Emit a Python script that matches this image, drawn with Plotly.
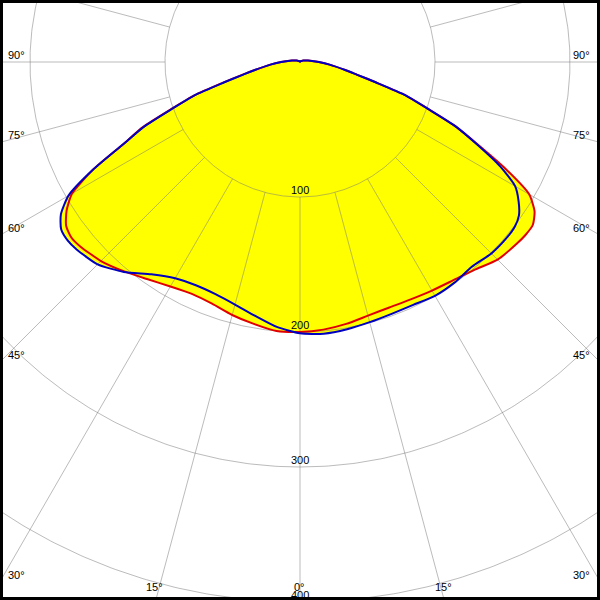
import numpy as np
import plotly.graph_objects as go

# ---- data: luminous intensity (cd/klm) vs gamma angle, two C-planes, left/right halves ----
gamma_deg = [0, 5, 10, 15, 20, 25, 30, 35, 40, 45,
             50, 52.5, 55, 57.5, 60, 62.5, 65, 67.5, 70, 72.5,
             75, 77.5, 80, 85, 90, 95, 100, 110, 120, 135,
             150, 180]

red_right = [200, 199, 197, 194.5, 193.5, 194, 195.5, 197.5, 201, 207,
             209.5, 210.5, 210.5, 206, 196, 172, 146, 125, 100, 82,
             58, 43, 34, 22, 14, 9, 6, 3, 2, 1,
             0.5, 0]
red_left = [200, 200, 197, 194, 190.5, 189.5, 192, 196.5, 202.5, 208.5,
            212.5, 213.5, 211.5, 205, 195, 173, 145, 126, 101, 82,
            59, 44, 34, 22, 14, 9, 6, 3, 2, 1,
            0.5, 0]
blue_right = [201, 202, 201, 199.5, 198.5, 198.5, 200, 199.5, 198, 200.5,
              201, 200.5, 198, 192, 184, 167, 145, 125, 100, 82,
              58, 43, 34, 22, 14, 9, 6, 3, 2, 1,
              0.5, 0]
blue_left = [201, 197, 191, 186, 183, 182.5, 185, 192, 203, 212,
             216, 217, 216, 210, 198, 173, 145, 125, 100, 82,
             58, 43, 34, 22, 14, 9, 6, 3, 2, 1,
             0.5, 0]

radial_ticks = [100, 200, 300, 400, 500]
radial_labels = ["100", "200", "300", "400"]
angle_ticks = [0, 15, 30, 45, 60, 75, 90]
angle_labels = [f"{a}°" for a in angle_ticks]

# ---- view (polar centre at 300,62 px; 1.35 px per unit) ----
SCALE = 1.35
XLIM = 300 / SCALE
YTOP = 62 / SCALE
YBOT = -538 / SCALE


def curve_xy(right, left):
    g = np.radians(gamma_deg)
    r_r = np.array(right, float)
    r_l = np.array(left, float)
    xr, yr = r_r * np.sin(g), -r_r * np.cos(g)
    xl, yl = -r_l * np.sin(g), -r_l * np.cos(g)
    x = np.concatenate([xr, xl[::-1]])
    y = np.concatenate([yr, yl[::-1]])
    return x, y


rx, ry = curve_xy(red_right, red_left)
bx, by = curve_xy(blue_right, blue_left)

fig = go.Figure()

# yellow fill (union of both planes)
for x, y in [(rx, ry), (bx, by)]:
    fig.add_trace(go.Scatter(x=x, y=y, mode="lines", fill="toself",
                             fillcolor="#ffff00",
                             line=dict(width=0, color="#ffff00", shape="spline", smoothing=0.6),
                             hoverinfo="skip", showlegend=False))

# grid: circles + radial lines starting at the first circle
gx, gy = [], []
th = np.linspace(0, 2 * np.pi, 721)
for r in radial_ticks:
    gx += list(r * np.sin(th)) + [None]
    gy += list(-r * np.cos(th)) + [None]
for a in range(0, 360, 15):
    ar = np.radians(a)
    gx += [radial_ticks[0] * np.sin(ar), 700 * np.sin(ar), None]
    gy += [-radial_ticks[0] * np.cos(ar), -700 * np.cos(ar), None]
fig.add_trace(go.Scatter(x=gx, y=gy, mode="lines",
                         line=dict(width=1, color="rgba(120,120,120,0.5)"),
                         hoverinfo="skip", showlegend=False))

# curves
fig.add_trace(go.Scatter(x=rx, y=ry, mode="lines",
                         line=dict(color="#e00000", width=2, shape="spline", smoothing=0.6),
                         hoverinfo="skip", showlegend=False))
fig.add_trace(go.Scatter(x=bx, y=by, mode="lines",
                         line=dict(color="#0000c0", width=2, shape="spline", smoothing=0.6),
                         hoverinfo="skip", showlegend=False))

font = dict(family="Liberation Sans, Arial, sans-serif", size=11, color="black")
ann = []
for r, lab in zip(radial_ticks, radial_labels):
    if -r >= YBOT:
        ann.append(dict(x=0, y=-r, text=lab, showarrow=False, font=font,
                        xanchor="center", yanchor="middle", yshift=7))
    else:
        # label sits just above its circle, which falls just outside the view
        ann.append(dict(x=0, y=YBOT, text=lab, showarrow=False, font=font,
                        xanchor="center", yanchor="middle",
                        yshift=7 - (YBOT + r) * SCALE))

for a, lab in zip(angle_ticks, angle_labels):
    ar = np.radians(a)
    s, c = np.sin(ar), np.cos(ar)
    t_side = XLIM / s if s > 1e-9 else np.inf
    t_bot = -YBOT / c if c > 1e-9 else np.inf
    sides = [1] if a == 0 else [-1, 1]
    for sgn in sides:
        if t_side < t_bot:
            yi = -t_side * c
            ann.append(dict(x=sgn * XLIM, y=yi, text=lab, showarrow=False, font=font,
                            xanchor="left" if sgn < 0 else "right", yanchor="middle",
                            xshift=6 if sgn < 0 else -8, yshift=7))
        else:
            xi = sgn * t_bot * s
            ann.append(dict(x=xi, y=YBOT, text=lab, showarrow=False, font=font,
                            xanchor="center", yanchor="middle", yshift=13, xshift=-1))

fig.update_layout(
    width=600, height=600, autosize=False,
    margin=dict(l=0, r=0, t=0, b=0),
    paper_bgcolor="white", plot_bgcolor="white",
    xaxis=dict(range=[-XLIM, XLIM], visible=False, fixedrange=True),
    yaxis=dict(range=[YBOT, YTOP], visible=False, fixedrange=True),
    annotations=ann,
    shapes=[dict(type="rect", xref="paper", yref="paper", x0=0, x1=1, y0=0, y1=1,
                 line=dict(color="black", width=6), layer="above")],
    showlegend=False,
)

fig.write_html("out.html", config={"displayModeBar": False},
               post_script="document.body.style.margin='0';document.body.style.padding='0';")
